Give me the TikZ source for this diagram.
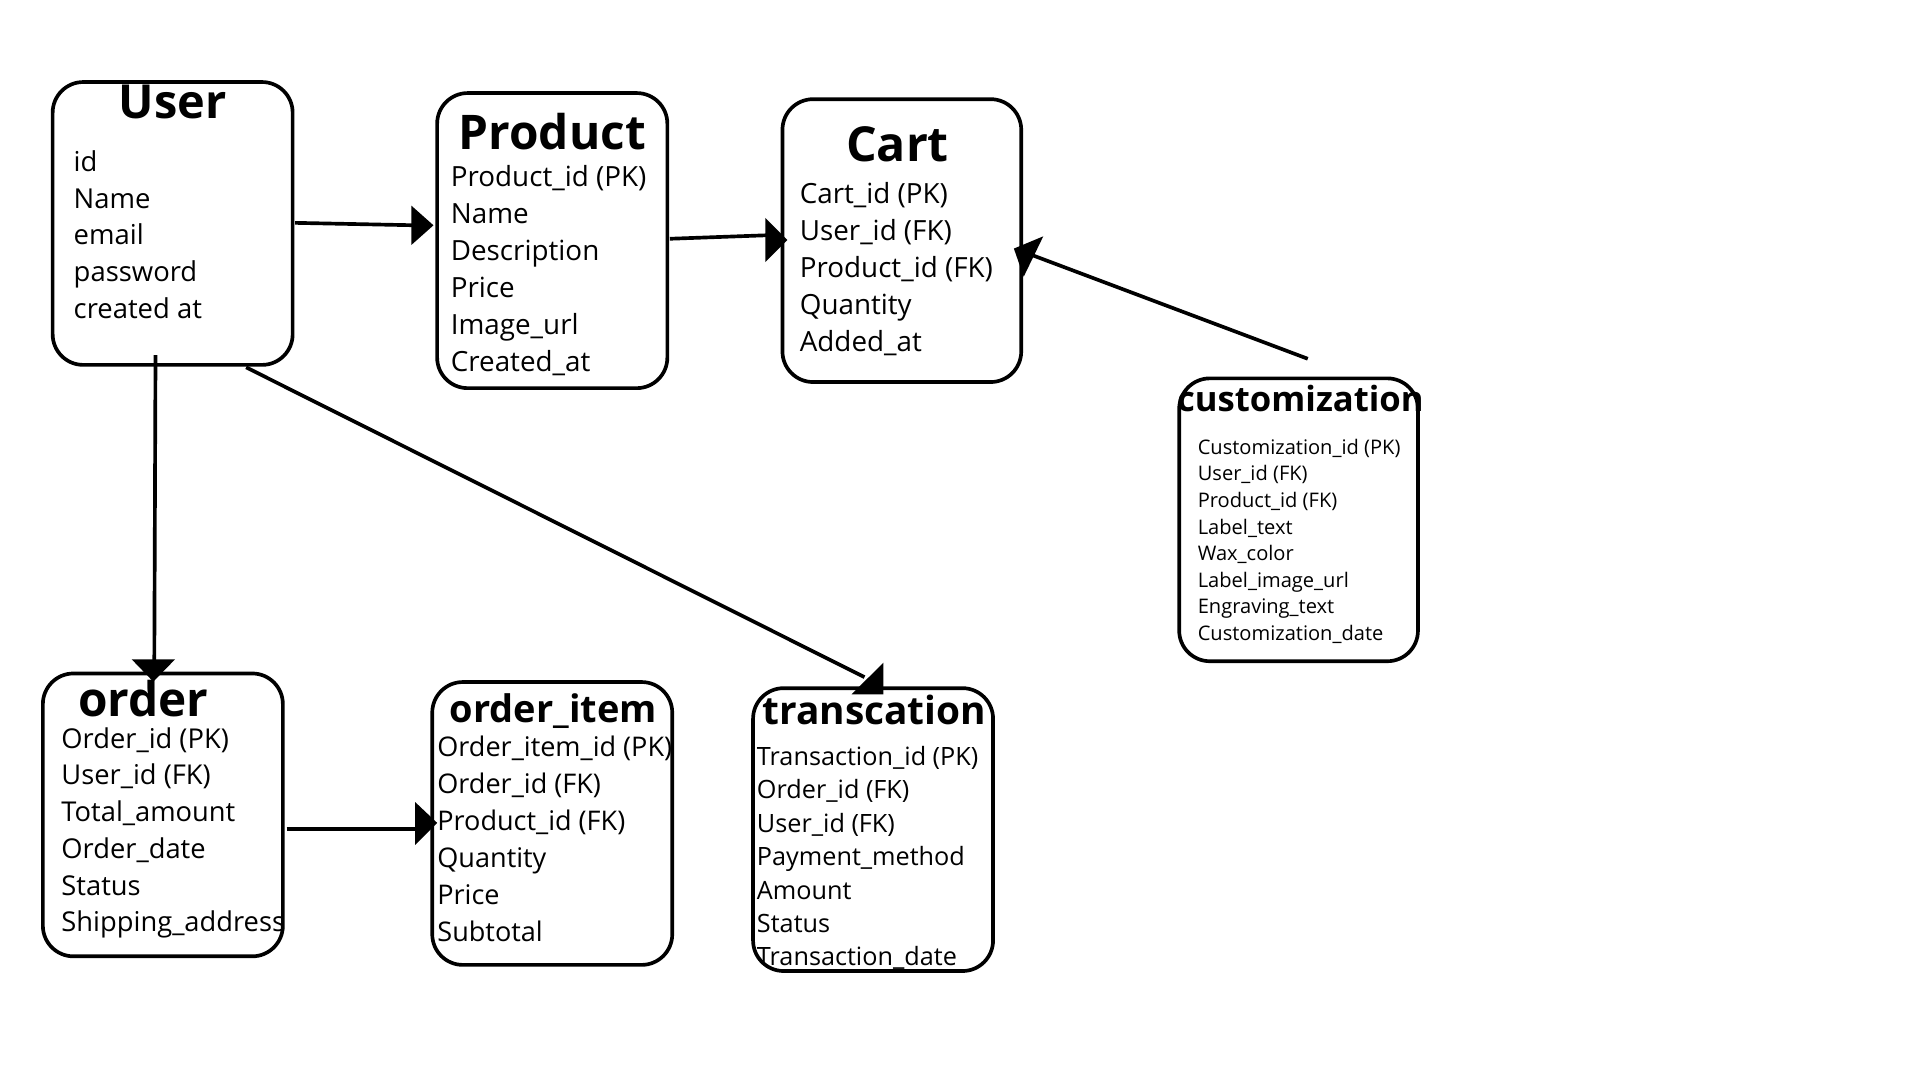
\documentclass[tikz,border=0pt]{standalone}
\usepackage{fontspec}
\setmainfont{Open Sans}
\begin{document}
\begin{tikzpicture}[x=1pt,y=-1pt,
  box/.style={draw, line width=3pt, rounded corners=25pt, minimum width=195pt, minimum height=231pt, inner sep=0pt},
  ttl/.style={anchor=base, inner sep=0pt},
  item/.style={anchor=base west, inner sep=0pt},
  conn/.style={line width=3pt},
  head/.style={fill=black}]
\useasboundingbox (0,0) rectangle (1568,882);
\fill[white] (0,0) rectangle (1568,882);

% ---------- boxes ----------
\node[box, minimum width=196pt] (user) at (141,182.5) {};
\node[box, minimum width=188pt, minimum height=241pt] (product) at (451,196.5) {};
\node[box] (cart) at (736.5,196.5) {};
\node[box] (custom) at (1060.5,424.5) {};
\node[box, minimum width=196pt] (order) at (133,665.5) {};
\node[box, minimum width=196pt] (orderitem) at (451,672.5) {};
\node[box, minimum width=196pt] (trans) at (713,677.5) {};

% ---------- titles ----------
\node[ttl, font=\fontsize{38.3}{41}\selectfont\bfseries] (userT) at (141,97) {User};
\node[ttl, font=\fontsize{39}{42}\selectfont\bfseries] (productT) at (451,122) {Product};
\node[ttl, font=\fontsize{39.4}{42}\selectfont\bfseries] (cartT) at (733,132) {Cart};
\node[ttl, font=\fontsize{28.3}{31}\selectfont\bfseries] (customT) at (1062,336) {customization};
\node[ttl, font=\fontsize{39}{42}\selectfont\bfseries] (orderT) at (117,585) {order};
\node[ttl, font=\fontsize{31}{34}\selectfont\bfseries] (orderitemT) at (452,590) {order\_item};
\node[ttl, font=\fontsize{31.7}{34}\selectfont\bfseries] (transT) at (714,592) {transcation};

% ---------- items ----------
\foreach \t [count=\i from 0] in {id,Name,email,password,created at}
  \node[item, font=\fontsize{22.4}{26}\selectfont] (user-\i) at (60,140+30*\i) {\t};
\foreach \t [count=\i from 0] in {Product\_id (PK),Name,Description,Price,Image\_url,Created\_at}
  \node[item, font=\fontsize{22.7}{26}\selectfont] (product-\i) at (368,152+30.2*\i) {\t};
\foreach \t [count=\i from 0] in {Cart\_id (PK),User\_id (FK),Product\_id (FK),Quantity,Added\_at}
  \node[item, font=\fontsize{22.7}{26}\selectfont] (cart-\i) at (653,166+30.2*\i) {\t};
\foreach \t [count=\i from 0] in {Customization\_id (PK),User\_id (FK),Product\_id (FK),Label\_text,Wax\_color,Label\_image\_url,Engraving\_text,Customization\_date}
  \node[item, font=\fontsize{16.4}{20}\selectfont] (custom-\i) at (978,371+21.7*\i) {\t};
\foreach \t [count=\i from 0] in {Order\_id (PK),User\_id (FK),Total\_amount,Order\_date,Status,Shipping\_address}
  \node[item, font=\fontsize{22.3}{26}\selectfont] (order-\i) at (50,611+30*\i) {\t};
\foreach \t [count=\i from 0] in {Order\_item\_id (PK),Order\_id (FK),Product\_id (FK),Quantity,Price,Subtotal}
  \node[item, font=\fontsize{22.1}{26}\selectfont] (orderitem-\i) at (357,618+30.2*\i) {\t};
\foreach \t [count=\i from 0] in {Transaction\_id (PK),Order\_id (FK),User\_id (FK),Payment\_method,Amount,Status,Transaction\_date}
  \node[item, font=\fontsize{20.6}{24}\selectfont] (trans-\i) at (618,625+27.3*\i) {\t};

% ---------- connectors ----------
\coordinate (c1s) at (241,182);  \coordinate (c1e) at (340,184);
\coordinate (c2s) at (547,195);  \coordinate (c2e) at (630,192);
\coordinate (c3s) at (1068,293); \coordinate (c3e) at (842,208);
\coordinate (c4s) at (127,290);  \coordinate (c4e) at (126,545);
\coordinate (c5s) at (201,300);  \coordinate (c5e) at (706,553);
\coordinate (c6s) at (234,677);  \coordinate (c6e) at (343,677);

\draw[conn] (c1s) -- (c1e);
\fill[head] (336,168) -- (336,200) -- (354,184) -- cycle;
\draw[conn] (c2s) -- (c2e);
\fill[head] (625,178) -- (625,214) -- (643,196) -- cycle;
\draw[conn] (c3s) -- (c3e);
\fill[head] (828,203) -- (852,193) -- (836,226) -- cycle;
\draw[conn] (c4s) -- (c4e);
\fill[head] (107.5,538.4) -- (143,538.4) -- (125.2,556.7) -- cycle;
\draw[conn] (c5s) -- (c5e);
\fill[head] (721.4,541.2) -- (695.5,567) -- (721.4,567) -- cycle;
\draw[conn] (c6s) -- (c6e);
\fill[head] (339,655) -- (339,690) -- (357,672) -- cycle;
\end{tikzpicture}
\end{document}
